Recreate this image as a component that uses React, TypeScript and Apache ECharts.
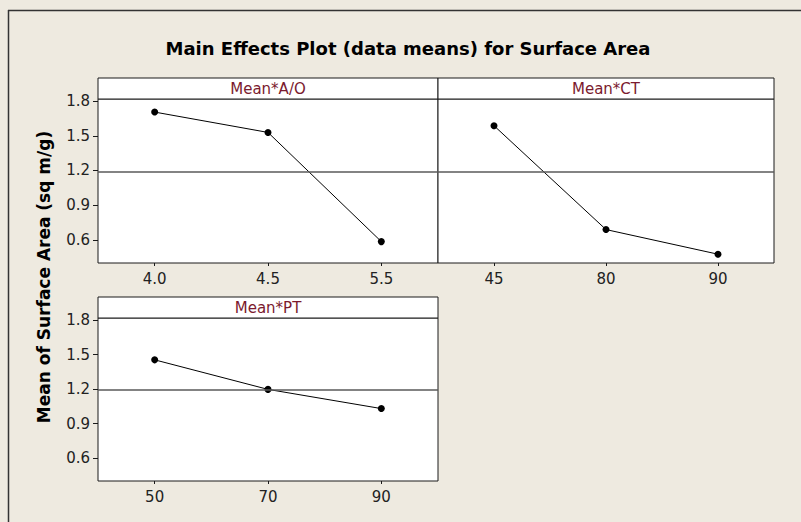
import React, { useEffect, useRef } from "react";
import * as echarts from "echarts";

const aoLevels = ["4.0", "4.5", "5.5"];
const aoMeans = [1.705, 1.529, 0.585];
const ctLevels = ["45", "80", "90"];
const ctMeans = [1.587, 0.689, 0.476];
const ptLevels = ["50", "70", "90"];
const ptMeans = [1.454, 1.197, 1.03];
const grandMean = 1.19;
const yTicks = [0.6, 0.9, 1.2, 1.5, 1.8];
const panelTitles = ["Mean*A/O", "Mean*CT", "Mean*PT"];
const mainTitle = "Main Effects Plot (data means) for Surface Area";
const yTitle = "Mean of Surface Area (sq m/g)";

const FONT = "'DejaVu Sans', Verdana, sans-serif";

export default function App() {
  const ref = useRef<HTMLDivElement>(null);

  useEffect(() => {
    if (!ref.current) return;
    const chart = echarts.init(ref.current, undefined, { renderer: "svg" });

    const grids = [
      { left: 98, top: 99, width: 340, height: 164 },
      { left: 438, top: 99, width: 336, height: 164 },
      { left: 98, top: 318, width: 340, height: 163 },
    ];
    const strips = [
      { x: 98, y: 78, w: 340, h: 21 },
      { x: 438, y: 78, w: 336, h: 21 },
      { x: 98, y: 297, w: 340, h: 21 },
    ];
    const levels = [aoLevels, ctLevels, ptLevels];
    const means = [aoMeans, ctMeans, ptMeans];

    const option: any = {
      animation: false,
      backgroundColor: "#EEEAE0",
      grid: grids.map((g) => ({
        ...g,
        show: true,
        backgroundColor: "#ffffff",
        borderColor: "#1a1a1a",
        borderWidth: 1,
      })),
      xAxis: levels.map((lv, i) => ({
        type: "category",
        gridIndex: i,
        data: lv,
        boundaryGap: true,
        axisLine: { show: false },
        axisTick: { show: true, alignWithLabel: true, length: 3, lineStyle: { color: "#1a1a1a" } },
        axisLabel: { color: "#222", fontSize: 15, fontFamily: FONT, margin: 8 },
        splitLine: { show: false },
      })),
      yAxis: levels.map((_, i) => ({
        type: "value",
        gridIndex: i,
        min: 0.4,
        max: 1.818,
        axisLine: { show: false },
        axisTick: {
          show: i !== 1,
          length: 5,
          customValues: yTicks,
          lineStyle: { color: "#1a1a1a" },
        },
        axisLabel: {
          show: i !== 1,
          customValues: yTicks,
          color: "#222",
          fontSize: 15,
          fontFamily: FONT,
          margin: 8,
          formatter: (v: number) => v.toFixed(1),
        },
        splitLine: { show: false },
      })),
      series: means.map((m, i) => ({
        type: "line",
        xAxisIndex: i,
        yAxisIndex: i,
        data: m,
        symbol: "circle",
        symbolSize: 7,
        itemStyle: { color: "#000" },
        lineStyle: { color: "#000", width: 1 },
        markLine: {
          silent: true,
          symbol: "none",
          label: { show: false },
          lineStyle: { color: "#5a5a5a", width: 1.5, type: "solid" },
          data: [{ yAxis: grandMean }],
        },
      })),
      graphic: [
        {
          type: "line",
          shape: { x1: 8, y1: 10.5, x2: 801, y2: 10.5 },
          style: { stroke: "#333", lineWidth: 1.5 },
        },
        {
          type: "line",
          shape: { x1: 8.5, y1: 10, x2: 8.5, y2: 522 },
          style: { stroke: "#333", lineWidth: 1.5 },
        },
        {
          type: "text",
          x: 408,
          y: 48,
          style: {
            text: mainTitle,
            fill: "#000",
            font: `bold 18px ${FONT}`,
            textAlign: "center",
            textVerticalAlign: "middle",
          },
        },
        {
          type: "text",
          x: 44,
          y: 277,
          rotation: Math.PI / 2,
          style: {
            text: yTitle,
            fill: "#000",
            font: `bold 17px ${FONT}`,
            textAlign: "center",
            textVerticalAlign: "middle",
          },
        },
        ...strips.map((s, i) => ({
          type: "group",
          children: [
            {
              type: "rect",
              shape: { x: s.x, y: s.y, width: s.w, height: s.h },
              style: { fill: "#ffffff", stroke: "#1a1a1a", lineWidth: 1 },
            },
            {
              type: "text",
              x: s.x + s.w / 2,
              y: s.y + s.h / 2,
              style: {
                text: panelTitles[i],
                fill: "#7B1A2E",
                font: `15px ${FONT}`,
                textAlign: "center",
                textVerticalAlign: "middle",
              },
            },
          ],
        })),
      ],
    };

    chart.setOption(option);
    return () => chart.dispose();
  }, []);

  return (
    <div
      ref={ref}
      style={{ position: "fixed", left: 0, top: 0, width: 801, height: 522 }}
    />
  );
}
